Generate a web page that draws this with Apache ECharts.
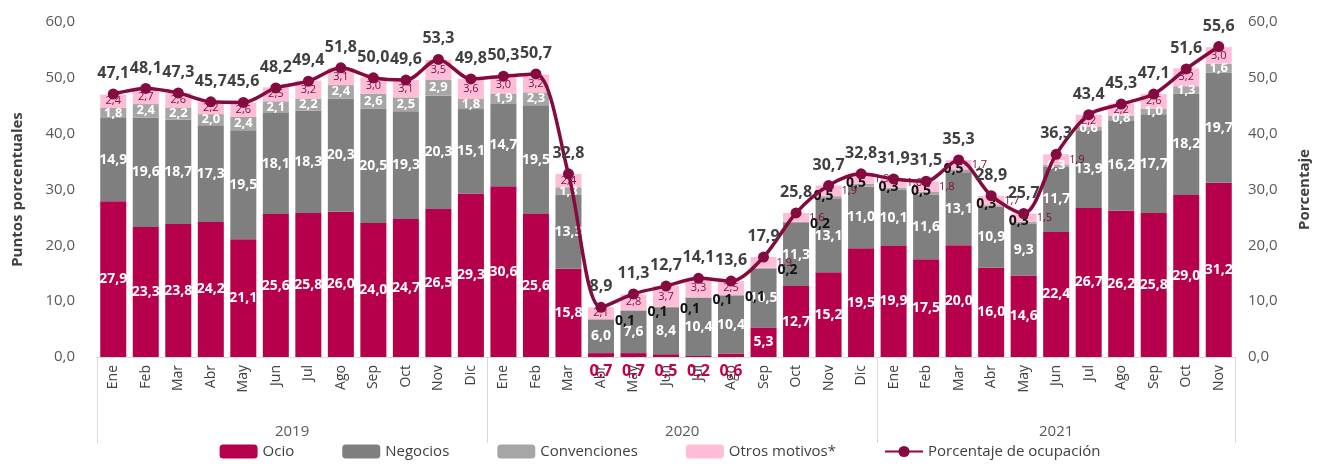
<!DOCTYPE html>
<html><head><meta charset="utf-8">
<script src="https://cdn.jsdelivr.net/npm/echarts@6/dist/echarts.min.js"></script>
<style>html,body{margin:0;padding:0;background:#fff}#c{width:1320px;height:464px}</style>
</head><body><div id="c"></div>
<script>
const months = ['Ene','Feb','Mar','Abr','May','Jun','Jul','Ago','Sep','Oct','Nov','Dic',
  'Ene','Feb','Mar','Abr','May','Jun','Jul','Ago','Sep','Oct','Nov','Dic',
  'Ene','Feb','Mar','Abr','May','Jun','Jul','Ago','Sep','Oct','Nov'];
const years = ['2019','2020','2021'];
const monthsPerYear = [12, 12, 11];
const ocio = [27.9,23.3,23.8,24.2,21.1,25.6,25.8,26.0,24.0,24.7,26.5,29.3,
  30.6,25.6,15.8,0.7,0.7,0.5,0.2,0.6,5.3,12.7,15.2,19.5,
  19.9,17.5,20.0,16.0,14.6,22.4,26.7,26.2,25.8,29.0,31.2];
const negocios = [14.9,19.6,18.7,17.3,19.5,18.1,18.3,20.3,20.5,19.3,20.3,15.1,
  14.7,19.5,13.3,6.0,7.6,8.4,10.4,10.4,10.5,11.3,13.1,11.0,
  10.1,11.6,13.1,10.9,9.3,11.7,13.9,16.2,17.7,18.2,19.7];
const convenciones = [1.8,2.4,2.2,2.0,2.4,2.1,2.2,2.4,2.6,2.5,2.9,1.8,
  1.9,2.3,1.3,0.1,0.1,0.1,0.1,0.1,0.2,0.2,0.5,0.5,
  0.3,0.5,0.5,0.3,0.3,0.3,0.6,0.8,1.0,1.3,1.6];
const otros = [2.4,2.7,2.6,2.2,2.6,2.5,3.2,3.1,3.0,3.1,3.5,3.6,
  3.0,3.2,2.4,2.1,2.8,3.7,3.3,2.5,1.9,1.6,1.9,1.9,
  1.6,1.8,1.7,1.7,1.5,1.9,2.2,2.2,2.6,3.2,3.0];
const ocupacion = [47.1,48.1,47.3,45.7,45.6,48.2,49.4,51.8,50.0,49.6,53.3,49.8,
  50.3,50.7,32.8,8.9,11.3,12.7,14.1,13.6,17.9,25.8,30.7,32.8,
  31.9,31.5,35.3,28.9,25.7,36.3,43.4,45.3,47.1,51.6,55.6];

const fmt = v => Number(v).toFixed(1).replace('.', ',');
const FONT = '"Open Sans", "DejaVu Sans", sans-serif';
const C_OCIO = '#b7004b', C_NEG = '#7f7f7f', C_CONV = '#a6a6a6', C_OTR = '#ffbdd7', C_LINE = '#850a3f';

const bounds = [0]; monthsPerYear.forEach(n => bounds.push(bounds[bounds.length-1] + n));
const centers = monthsPerYear.map((n, i) => bounds[i] + n / 2);
const total = bounds[bounds.length-1];

const baseLbl = {show: true, fontFamily: FONT, fontWeight: 'bold', formatter: p => fmt(p.value)};

const ocioData = ocio.map(v => v < 1 ? {value: v, label: {position: 'bottom', distance: 6, color: '#c0004f', fontSize: 16}} : v);
const convData = convenciones.map((v, i) => {
  if (v < 0.3) return {value: v, label: {position: 'right', distance: 1, color: '#111', fontSize: 14, offset: [0, 2]}};
  if (v < 1 && i < 29) return {value: v, label: {position: 'insideLeft', distance: 0, color: '#111', fontSize: 14, offset: [-2, -2]}};
  return v;
});
const otrosData = otros.map(v => v < 2 ? {value: v, label: {position: 'right', distance: 0}} : v);

const chart = echarts.init(document.getElementById('c'), null, {renderer: 'canvas'});
chart.setOption({
  animation: false,
  textStyle: {fontFamily: FONT},
  grid: {left: 97, right: 85, top: 22, bottom: 107, containLabel: false},
  legend: {
    bottom: 0, left: 'center', itemWidth: 38, itemHeight: 14, itemGap: 48,
    textStyle: {fontSize: 15, color: '#404040', fontFamily: FONT},
    data: ['Ocio', 'Negocios', 'Convenciones', 'Otros motivos*', 'Porcentaje de ocupación']
  },
  xAxis: [
    {
      type: 'category', data: months, boundaryGap: true,
      axisLine: {show: true, lineStyle: {color: '#d9d9d9', width: 1}},
      axisTick: {show: false},
      axisLabel: {rotate: 90, margin: 8, fontSize: 14, color: '#404040', fontFamily: FONT, interval: 0}
    },
    {
      type: 'value', min: 0, max: total, position: 'bottom', gridIndex: 0,
      axisLine: {show: false}, splitLine: {show: false},
      axisTick: {show: true, customValues: bounds, length: 86, lineStyle: {color: '#d9d9d9', width: 1}},
      axisLabel: {show: true, customValues: centers, margin: 67, fontSize: 15, color: '#595959', fontFamily: FONT,
        formatter: v => { const i = centers.indexOf(v); return i >= 0 ? years[i] : ''; }}
    }
  ],
  yAxis: [
    {
      type: 'value', min: 0, max: 60, interval: 10,
      name: 'Puntos porcentuales', nameLocation: 'middle', nameGap: 72, nameRotate: 90,
      nameTextStyle: {fontSize: 15, fontWeight: 'bold', color: '#404040', fontFamily: FONT},
      axisLine: {show: false}, axisTick: {show: false}, splitLine: {show: false},
      axisLabel: {formatter: v => fmt(v), fontSize: 15, color: '#595959', margin: 22, fontFamily: FONT}
    },
    {
      type: 'value', min: 0, max: 60, interval: 10, position: 'right',
      name: 'Porcentaje', nameLocation: 'middle', nameGap: 62, nameRotate: 90,
      nameTextStyle: {fontSize: 15, fontWeight: 'bold', color: '#404040', fontFamily: FONT},
      axisLine: {show: false}, axisTick: {show: false}, splitLine: {show: false},
      axisLabel: {formatter: v => fmt(v), fontSize: 15, color: '#595959', margin: 13, fontFamily: FONT}
    }
  ],
  series: [
    {name: 'Ocio', type: 'bar', stack: 'a', barCategoryGap: '20%', data: ocioData,
     itemStyle: {color: C_OCIO},
     label: Object.assign({}, baseLbl, {position: 'inside', color: '#fff', fontSize: 14})},
    {name: 'Negocios', type: 'bar', stack: 'a', data: negocios,
     itemStyle: {color: C_NEG},
     label: Object.assign({}, baseLbl, {position: 'inside', color: '#fff', fontSize: 14})},
    {name: 'Convenciones', type: 'bar', stack: 'a', data: convData,
     itemStyle: {color: C_CONV},
     label: Object.assign({}, baseLbl, {position: 'inside', color: '#fff', fontSize: 13})},
    {name: 'Otros motivos*', type: 'bar', stack: 'a', data: otrosData,
     itemStyle: {color: C_OTR},
     label: Object.assign({}, baseLbl, {position: 'inside', color: '#7a0c3a', fontSize: 11, fontWeight: 'normal'})},
    {name: 'Porcentaje de ocupación', type: 'line', yAxisIndex: 1, data: ocupacion, smooth: 0.3,
     symbol: 'circle', symbolSize: 11, z: 5,
     lineStyle: {color: C_LINE, width: 3.5}, itemStyle: {color: C_LINE},
     label: Object.assign({}, baseLbl, {position: 'top', distance: 7, color: '#404040', fontSize: 16})}
  ]
});
</script>
</body></html>
